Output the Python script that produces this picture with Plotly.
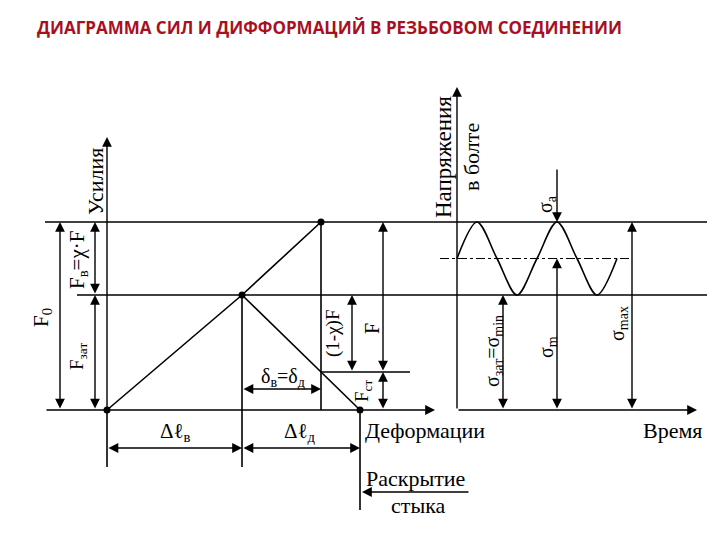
import plotly.graph_objects as go

# ---- data (force / deformation units, schematic) ----
F_zat = 115          # preload force F_зат
chi_F = 73           # bolt share of external load, F_в = χ·F
dl_bolt = 135        # bolt deformation Δℓ_в
dl_part = 118        # part deformation Δℓ_д
delta = 79           # extra deformation δ_в = δ_д
F0 = F_zat + chi_F   # total bolt force
F_st = F_zat * (1 - delta / dl_part)   # remaining joint force F_ст

# stress diagram (time axis), same scale as forces
t0 = 350
wave_t = [0, 20, 40, 60, 80, 100, 120, 140, 160]
sigma_min = F_zat
sigma_max = F0
sigma_m = (sigma_min + sigma_max) / 2
wave_s = [sigma_m, sigma_max, sigma_m, sigma_min, sigma_m, sigma_max, sigma_m, sigma_min, sigma_m]

K = "black"
LW = 1.6
PAGE = 8  # browser body margin
fig = go.Figure()

def line(xs, ys, dash="solid", w=LW):
    fig.add_trace(go.Scatter(x=xs, y=ys, mode="lines", line=dict(color=K, width=w, dash=dash),
                             hoverinfo="skip", showlegend=False))

# horizontal levels
line([-62, 600], [F0, F0])
line([-30, 600], [F_zat, F_zat])
line([214, 303], [F_st, F_st])
# verticals
line([dl_bolt, dl_bolt], [F_zat, -57])
line([dl_bolt + delta, dl_bolt + delta], [F0, 0])
line([dl_bolt + dl_part, dl_bolt + dl_part], [0, -100])
line([0, 0], [-57, 0])
# characteristic lines
line([0, dl_bolt, dl_bolt + delta], [0, F_zat, F0])
line([dl_bolt, dl_bolt + dl_part], [F_zat, 0])
fig.add_trace(go.Scatter(x=[0, dl_bolt, dl_bolt + delta, dl_bolt + dl_part], y=[0, F_zat, F0, 0],
                         mode="markers", marker=dict(color=K, size=7), hoverinfo="skip", showlegend=False))
# stress diagram
line([333, 523], [sigma_m, sigma_m], dash="dashdot", w=1.2)
fig.add_trace(go.Scatter(x=[t0 + t for t in wave_t], y=wave_s, mode="lines",
                         line=dict(color=K, width=LW, shape="spline", smoothing=0.9),
                         hoverinfo="skip", showlegend=False))

ann = []
def arrow(x0, y0, x1, y1, both=True):
    ann.append(dict(x=x1, y=y1, ax=x0, ay=y0, xref="x", yref="y", axref="x", ayref="y",
                    text="", showarrow=True, arrowhead=2, arrowsize=1.4, arrowwidth=1.4,
                    arrowcolor=K, arrowside="end+start" if both else "end", standoff=0, startstandoff=0))

# axes with arrows
arrow(-62, 0, 328, 0, both=False)         # deformation axis
arrow(0, 0, 0, 273, both=False)           # force axis
arrow(t0, 0, 590, 0, both=False)          # time axis
arrow(t0, 0, t0, 323, both=False)         # stress axis
# dimension arrows
arrow(-47, 0, -47, F0)
arrow(-12, F_zat, -12, F0)
arrow(-12, 0, -12, F_zat)
arrow(dl_bolt, 21, dl_bolt + delta, 21)
arrow(245, F_st, 245, F_zat)
arrow(276, F_st, 276, F0)
arrow(276, 0, 276, F_st)
arrow(0, -38, dl_bolt, -38)
arrow(dl_bolt, -38, dl_bolt + dl_part, -38)
arrow(363, -82, 255, -82, both=False)
arrow(450, 242, 450, sigma_max, both=False)
arrow(450, 0, 450, sigma_m)
arrow(396, 0, 396, sigma_min)
arrow(525, 0, 525, sigma_max)

SERIF = "Liberation Serif"
def label(x, y, txt, size=19, angle=0):
    ann.append(dict(x=x, y=y, xref="x", yref="y", text=txt, showarrow=False, textangle=angle,
                    font=dict(family=SERIF, size=size, color=K)))

label(-12, 228, "Усилия", 22, -90)
label(-29, 150, "F<sub>в</sub>=χ·F", 21, -90)
label(-65, 92, "F<sub>0</sub>", 21, -90)
label(-29, 53, "F<sub>зат</sub>", 19, -90)
label(176, 33, "δ<sub>в</sub>=δ<sub>д</sub>", 20)
label(226, 76, "(1-χ)F", 19, -90)
label(265, 81, "F", 20, -90)
label(256, 19, "F<sub>ст</sub>", 19, -90)
label(68, -22, "Δℓ<sub>в</sub>", 21)
label(193, -22, "Δℓ<sub>д</sub>", 21)
label(318, -20, "Деформации", 22)
label(308, -68, "Раскрытие", 22)
label(311, -95, "стыка", 22)
label(336, 253, "Напряжения", 23, -90)
label(364, 253, "в болте", 22, -90)
label(439, 206, "σ<sub>а</sub>", 20, -90)
label(386, 59, "σ<sub>зат</sub>=σ<sub>min</sub>", 20, -90)
label(440, 63, "σ<sub>m</sub>", 20, -90)
label(511, 86, "σ<sub>max</sub>", 20, -90)
label(565, -20, "Время", 22)

ann.append(dict(x=(35 - PAGE) / 720, y=1 - (27 - PAGE) / 540, xref="paper", yref="paper",
                xanchor="left", yanchor="middle",
                text="<b>ДИАГРАММА СИЛ И ДИФФОРМАЦИЙ В РЕЗЬБОВОМ СОЕДИНЕНИИ</b>", showarrow=False,
                font=dict(family="Open Sans", size=17, color="#A8101E")))

fig.update_layout(width=720, height=540, margin=dict(l=0, r=0, t=0, b=0),
                  paper_bgcolor="white", plot_bgcolor="white", annotations=ann,
                  xaxis=dict(range=[-107 + PAGE, 613 + PAGE], visible=False, fixedrange=True),
                  yaxis=dict(range=[-130 - PAGE, 410 - PAGE], visible=False, fixedrange=True))
fig.write_html("out.html")
